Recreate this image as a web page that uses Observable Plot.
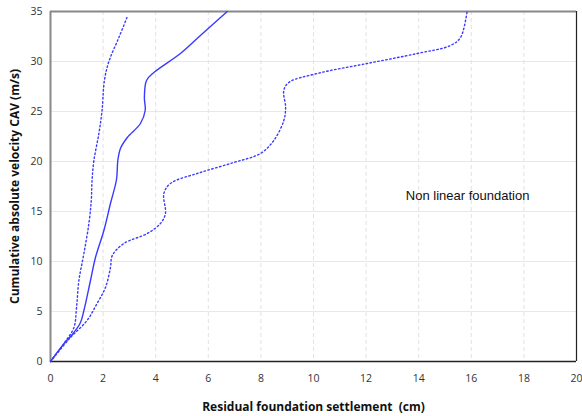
<!DOCTYPE html>
<html><head><meta charset="utf-8">
<script src="https://cdn.jsdelivr.net/npm/d3@7"></script>
<script src="https://cdn.jsdelivr.net/npm/@observablehq/plot@0.6"></script>
<style>
body{margin:0;background:#fff;}
#chart svg{font-family:"Open Sans",sans-serif;}
g[aria-label="x-axis label"] text, g[aria-label="y-axis label"] text{font-weight:bold;font-size:12px;fill:#111;}
</style></head>
<body><div id="chart"></div>
<script>
// Solid curve (settlement cm, CAV m/s)
const solidX = [0, 0.51, 0.89, 1.14, 1.27, 1.52, 1.71, 2.03, 2.28, 2.51, 2.56, 2.66, 2.92, 3.42, 3.60, 3.57, 3.65, 3.93, 4.94, 5.70, 6.72];
const solidY = [0, 1.77, 2.9, 3.9, 5.1, 8.1, 10.4, 13.1, 15.8, 18.2, 20.1, 21.3, 22.4, 23.8, 25.1, 26.4, 28.1, 28.9, 30.8, 32.6, 35];
// Left dotted curve
const lowX = [0, 0.51, 0.89, 0.99, 1.08, 1.27, 1.46, 1.55, 1.58, 1.65, 1.84, 1.96, 2.05, 2.22, 2.60, 2.94];
const lowY = [0, 1.8, 3.4, 5.4, 8.1, 10.8, 13.8, 16.1, 18.1, 20.1, 22.8, 25.1, 28.1, 30, 32.4, 34.6];
// Right dotted curve
const highX = [0, 0.76, 1.39, 1.77, 2.09, 2.28, 2.35, 2.79, 3.68, 4.18, 4.37, 4.31, 4.56, 5.70, 6.97, 7.98, 8.49, 8.87, 8.94, 8.87, 9.06, 10.14, 12.04, 13.94, 15.21, 15.59, 15.84];
const highY = [0, 2.4, 4.1, 5.8, 7.4, 9.4, 10.6, 11.8, 12.8, 13.8, 14.8, 16.8, 17.8, 18.9, 19.9, 20.8, 22.1, 24.1, 25.4, 27.1, 27.9, 28.8, 29.8, 30.8, 31.6, 32.4, 35];
const xTicks = [0, 2, 4, 6, 8, 10, 12, 14, 16, 18, 20];
const yTicks = [0, 5, 10, 15, 20, 25, 30, 35];
const annotation = [{x: 15.86, y: 16.6, label: "Non linear foundation"}];

const toRows = (xs, ys) => xs.map((x, i) => ({x, y: ys[i]}));
const solid = toRows(solidX, solidY);
const low = toRows(lowX, lowY);
const high = toRows(highX, highY);
const blue = "#3a3aff";

const chart = Plot.plot({
  width: 582, height: 416,
  marginLeft: 50, marginRight: 6, marginTop: 11, marginBottom: 55,
  style: {fontSize: "10.5px", color: "#333", background: "#fff"},
  x: {domain: [0, 20], ticks: xTicks},
  y: {domain: [0, 35], ticks: yTicks},
  marks: [
    Plot.ruleY(yTicks.filter(d => d > 0 && d < 35), {stroke: "#e8e8e8", strokeWidth: 1}),
    Plot.ruleX(xTicks.filter(d => d > 0 && d < 20), {stroke: "#e2e2e2", strokeWidth: 1, strokeDasharray: "4,3"}),
    Plot.axisX({ticks: xTicks, tickSize: 0, tickPadding: 13, label: "Residual foundation settlement  (cm)", labelAnchor: "center", labelArrow: "none", labelOffset: 49}),
    Plot.axisY({ticks: yTicks, tickSize: 0, tickPadding: 8, label: "Cumulative absolute velocity CAV (m/s)", labelAnchor: "center", labelArrow: "none", labelOffset: 40}),
    Plot.ruleX([0], {stroke: "#888", strokeWidth: 2}),
    Plot.ruleY([35], {stroke: "#888", strokeWidth: 2}),
    Plot.ruleX([20], {stroke: "#222", strokeWidth: 1.2}),
    Plot.ruleY([0], {stroke: "#222", strokeWidth: 1.5}),
    Plot.line(low, {x: "x", y: "y", curve: "catmull-rom", stroke: blue, strokeWidth: 1.4, strokeDasharray: "1.5,2.5"}),
    Plot.line(high, {x: "x", y: "y", curve: "catmull-rom", stroke: blue, strokeWidth: 1.4, strokeDasharray: "1.5,2.5"}),
    Plot.line(solid, {x: "x", y: "y", curve: "catmull-rom", stroke: blue, strokeWidth: 1.4}),
    Plot.text(annotation, {x: "x", y: "y", text: "label", fontSize: 13, fill: "#111", fontFamily: "Liberation Sans, Arial, sans-serif"})
  ]
});
document.getElementById("chart").appendChild(chart);
</script></body></html>
